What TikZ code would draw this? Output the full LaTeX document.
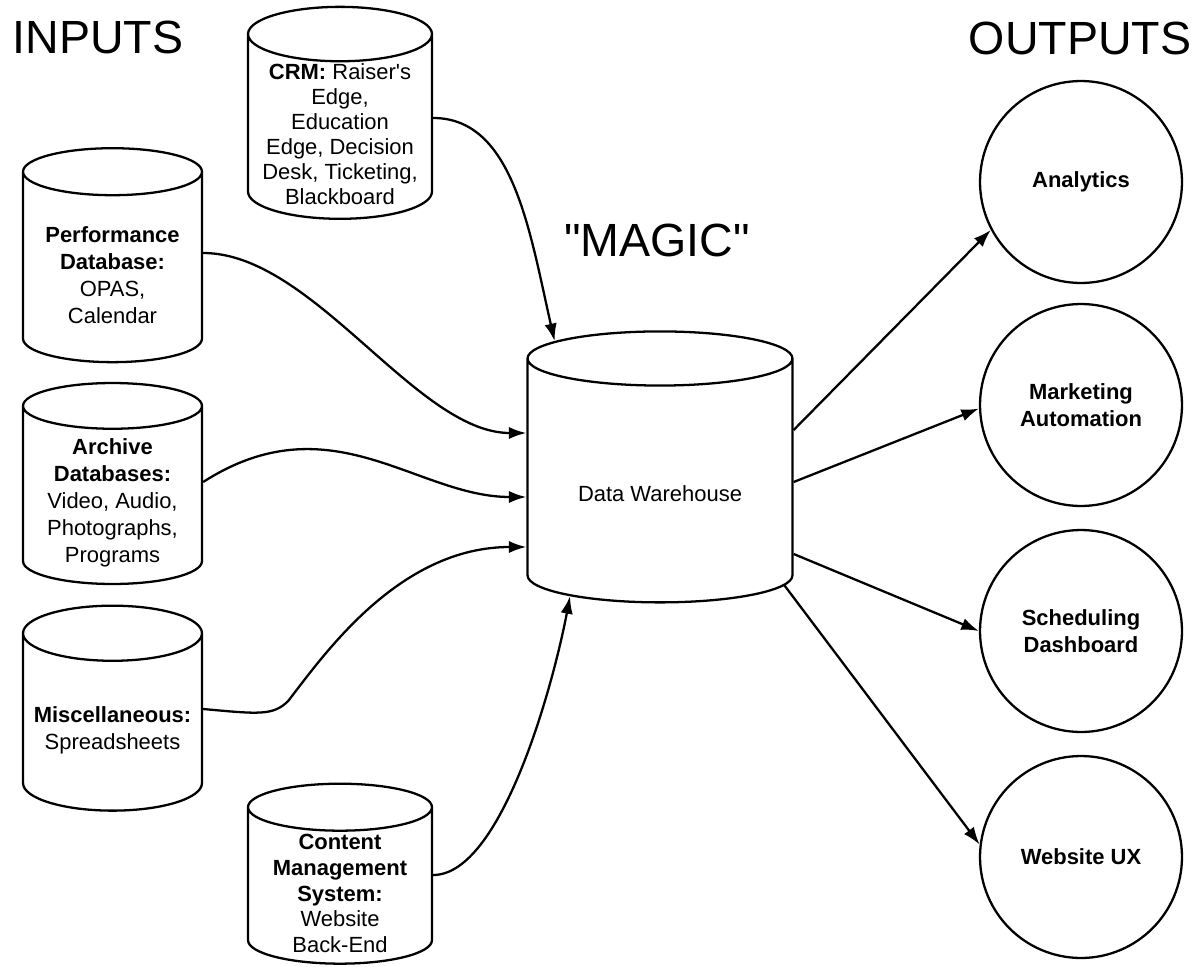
\documentclass[tikz,border=0pt]{standalone}
\usepackage{fontspec}
\setmainfont{Liberation Sans}
\usetikzlibrary{shapes.geometric,arrows.meta}

% room under the lid of a cylinder
\newcommand{\lidgap}[1][17.5pt]{\rule{0pt}{#1}}

\tikzset{
  db/.style={cylinder, shape border rotate=90, draw, line width=1.3pt, aspect=0.35,
    align=center, inner xsep=0pt, inner ysep=-20pt, font=\fontsize{12.5}{15.3}\selectfont},
  outp/.style={circle, draw, line width=1.3pt, minimum size=4.04cm, inner sep=0pt,
    align=center, font=\fontsize{12.5}{15.3}\selectfont\bfseries},
  title/.style={font=\fontsize{26.5}{30}\selectfont},
  flow/.style={-{Latex[length=10pt,width=7pt]}, line width=1.3pt}
}

\begin{document}
\begin{tikzpicture}[x=0.02cm, y=-0.02cm]
    \useasboundingbox (0,0) rectangle (1201,967);

    % headings
    \node[title] (inputs) at (98,37) {INPUTS};
    \node[title] (outputs) at (1080,38) {OUTPUTS};
    \node[title] (magic) at (657,240) {\textquotedbl MAGIC\textquotedbl};

    % sources
    \node[db, minimum width=3.68cm, minimum height=4.24cm, font=\fontsize{12.5}{14.2}\selectfont] (crm) at (340,127)
        {\lidgap\textbf{CRM:} Raiser\textquotesingle s\\Edge,\\Education\\Edge, Decision\\Desk, Ticketing,\\Blackboard};
    \node[db, minimum width=3.58cm, minimum height=4.28cm] (perf) at (112.5,267.5)
        {\lidgap\textbf{Performance}\\\textbf{Database:}\\OPAS,\\Calendar};
    \node[db, minimum width=3.58cm, minimum height=4.02cm] (arch) at (112.5,495.5)
        {\lidgap\textbf{Archive}\\\textbf{Databases:}\\Video, Audio,\\Photographs,\\Programs};
    \node[db, minimum width=3.58cm, minimum height=4.1cm] (misc) at (112.5,722.5)
        {\lidgap\textbf{Miscellaneous:}\\Spreadsheets};
    \node[db, minimum width=3.68cm, minimum height=3.6cm, font=\fontsize{12.5}{14.6}\selectfont] (cms) at (340,886)
        {\lidgap\textbf{Content}\\\textbf{Management}\\\textbf{System:}\\Website\\Back-End};

    % warehouse
    \node[db, aspect=0.33, minimum width=5.3cm, minimum height=5.42cm] (dw) at (660,481)
        {\lidgap[23.5pt]Data Warehouse};

    % outputs
    \node[outp] (ana) at (1081,182) {Analytics};
    \node[outp] (mkt) at (1081,405) {Marketing\\Automation};
    \node[outp] (sch) at (1081,631) {Scheduling\\Dashboard};
    \node[outp] (web) at (1081,857) {Website UX};

    % into the warehouse
    \draw[flow] ([yshift=0.18cm]crm.east) .. controls +(80,0) and +(-25,-110) .. (dw.127);
    \draw[flow] ([yshift=0.29cm]perf.east) .. controls +(110,0) and +(-110,0) .. ([yshift=0.96cm]dw.west);
    \draw[flow] ([yshift=0.27cm]arch.east) .. controls +(128,-82) and +(-110,0) .. ([yshift=-0.32cm]dw.west);
    \draw[flow] ([yshift=0.27cm]misc.east) .. controls +(55,5) and +(-15,15) .. ++(85,-8)
        .. controls +(35,-45) and +(-128,0) .. ([yshift=-1.32cm]dw.west);
    \draw[flow] ([yshift=0.22cm]cms.east) .. controls +(68,0) and +(-17,90) .. (dw.232);

    % out of the warehouse
    \draw[flow] ([yshift=1.02cm]dw.east) -- (ana.208);
    \draw[flow] ([yshift=-0.02cm]dw.east) -- (mkt.182);
    \draw[flow] ([yshift=-1.46cm]dw.east) -- (sch.west);
    \draw[flow] (dw.-40) -- (web.173);
\end{tikzpicture}
\end{document}
